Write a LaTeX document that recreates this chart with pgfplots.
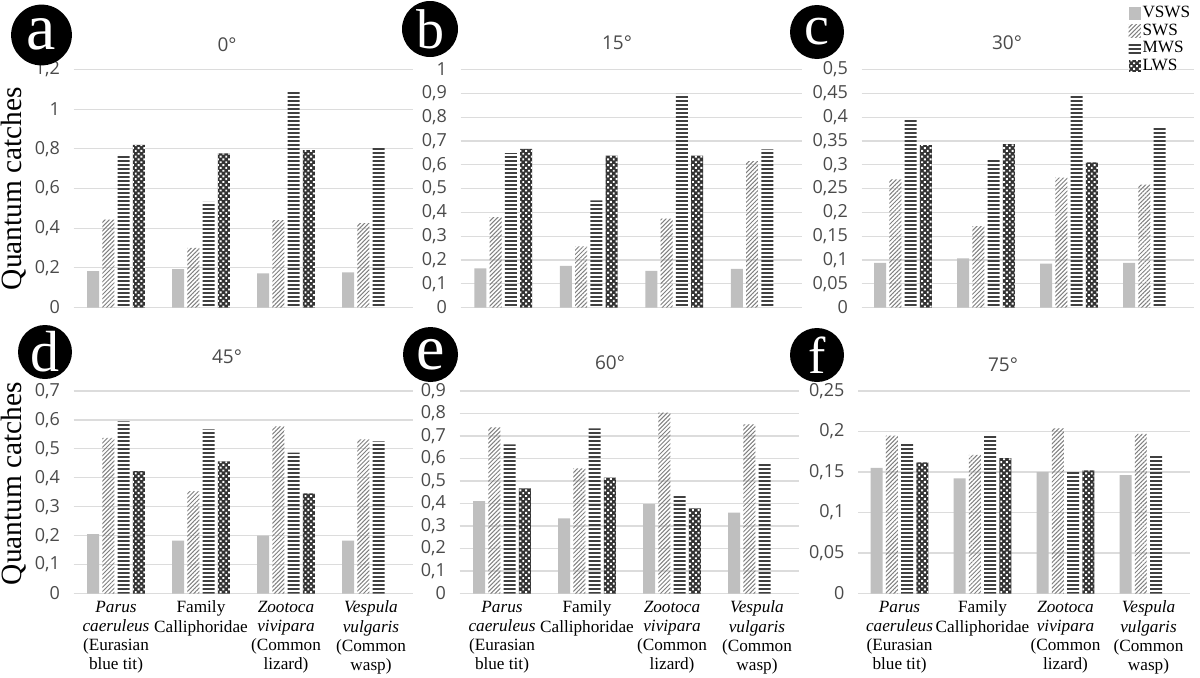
\documentclass[border=0pt]{standalone}
\usepackage{fontspec}
\setmainfont{Liberation Serif}
\newfontfamily\ticksf{Open Sans}
\usepackage{pgfplots}
\pgfplotsset{compat=1.18}
\usetikzlibrary{patterns.meta}
\definecolor{tickgray}{HTML}{4A4A4A}
\definecolor{gridgray}{HTML}{DCDCDC}
\definecolor{cvsws}{HTML}{BFBFBF}
\definecolor{csws}{HTML}{808080}
\definecolor{cmws}{HTML}{404040}
\definecolor{clws}{HTML}{333333}

\pgfplotsset{
 panel/.style={scale only axis, anchor=south west, ybar=1.65pt, bar width=6pt,
   xmin=-0.5, xmax=3.5, ymin=0, axis line style={draw=none}, major tick length=0pt,
   ymajorgrids, grid style={draw=gridgray, line width=0.6pt},
   yticklabel style={font=\ticksf\fontsize{9}{10}\selectfont, text=tickgray, xshift=-3.3pt},
   /pgf/number format/fixed, /pgf/number format/use comma, /pgf/number format/precision=2,
   /pgf/number format/assume math mode=true,
   scaled y ticks=false, clip=false, xtick=\empty,
   legend image code/.code={\path[##1, draw=none] (0pt,-3.2pt) rectangle (6.2pt,3.2pt);}},
 bottomlabels/.style={xtick={0,1,2,3},
   xticklabels={{\textit{Parus}\\\textit{caeruleus}\\(Eurasian\\blue tit)},
                {Family\\Calliphoridae},
                {\textit{Zootoca}\\\textit{vivipara}\\(Common\\lizard)},
                {\textit{Vespula}\\\textit{vulgaris}\\(Common\\wasp)}},
   xticklabel style={align=center, font=\fontsize{8.6}{9.6}\selectfont, inner sep=1pt, anchor=north, yshift=-2.5pt}},
 svsws/.style={fill=cvsws, draw=none},
 ssws/.style={draw=none, pattern={Lines[angle=45,distance=1.5pt,line width=0.5pt]}, pattern color=csws},
 smws/.style={draw=none, pattern={Lines[angle=0,distance=2pt,line width=1pt]}, pattern color=cmws},
 slws/.style={draw=none, fill=clws, postaction={pattern={Dots[angle=45,distance=2pt,radius=0.68pt]}, pattern color=white}},
}

\begin{document}
\begin{tikzpicture}
\useasboundingbox (0,0) rectangle (600pt,338.5pt);

% (a) 0 deg
\begin{axis}[panel, at={(36.75pt,184.75pt)}, width=170pt, height=119pt,
  ymax=1.2, ytick={0,0.2,0.4,0.6,0.8,1,1.2}]
\addplot[svsws] coordinates {(0,0.183) (1,0.194) (2,0.172) (3,0.177)};
\addplot[ssws] coordinates {(0,0.443) (1,0.301) (2,0.440) (3,0.426)};
\addplot[smws] coordinates {(0,0.772) (1,0.532) (2,1.095) (3,0.811)};
\addplot[slws] coordinates {(0,0.820) (1,0.777) (2,0.794)};
\end{axis}

% (b) 15 deg
\begin{axis}[panel, at={(230.25pt,184.75pt)}, width=171pt, height=119pt,
  ymax=1, ytick={0,0.1,0.2,0.3,0.4,0.5,0.6,0.7,0.8,0.9,1}]
\addplot[svsws] coordinates {(0,0.164) (1,0.175) (2,0.154) (3,0.162)};
\addplot[ssws] coordinates {(0,0.380) (1,0.257) (2,0.373) (3,0.615)};
\addplot[smws] coordinates {(0,0.649) (1,0.450) (2,0.898) (3,0.664)};
\addplot[slws] coordinates {(0,0.667) (1,0.638) (2,0.638)};
\end{axis}

% (c) 30 deg
\begin{axis}[panel, at={(430.75pt,184.75pt)}, width=166pt, height=119pt,
  ymax=0.5, ytick={0,0.05,0.1,0.15,0.2,0.25,0.3,0.35,0.4,0.45,0.5},
  legend style={at={(0.803,1.275)}, anchor=north west, draw=none, fill=none,
    font=\fontsize{8.6}{8.6}\selectfont, row sep=0pt, inner sep=0pt, nodes={inner sep=0.8pt}},
  legend cell align=left]
\addplot[svsws] coordinates {(0,0.094) (1,0.103) (2,0.092) (3,0.094)};
\addplot[ssws] coordinates {(0,0.269) (1,0.171) (2,0.273) (3,0.258)};
\addplot[smws] coordinates {(0,0.398) (1,0.314) (2,0.447) (3,0.381)};
\addplot[slws] coordinates {(0,0.341) (1,0.343) (2,0.305)};
\legend{VSWS,SWS,MWS,LWS}
\end{axis}

% (d) 45 deg
\begin{axis}[panel, bottomlabels, at={(36.75pt,41.75pt)}, width=170pt, height=101.25pt,
  ymax=0.7, ytick={0,0.1,0.2,0.3,0.4,0.5,0.6,0.7}]
\addplot[svsws] coordinates {(0,0.205) (1,0.183) (2,0.200) (3,0.183)};
\addplot[ssws] coordinates {(0,0.538) (1,0.354) (2,0.578) (3,0.533)};
\addplot[smws] coordinates {(0,0.595) (1,0.567) (2,0.487) (3,0.526)};
\addplot[slws] coordinates {(0,0.423) (1,0.457) (2,0.346)};
\end{axis}

% (e) 60 deg
\begin{axis}[panel, bottomlabels, at={(229.75pt,41.75pt)}, width=170pt, height=101.25pt,
  ymax=0.9, ytick={0,0.1,0.2,0.3,0.4,0.5,0.6,0.7,0.8,0.9}]
\addplot[svsws] coordinates {(0,0.411) (1,0.334) (2,0.397) (3,0.359)};
\addplot[ssws] coordinates {(0,0.738) (1,0.556) (2,0.804) (3,0.752)};
\addplot[smws] coordinates {(0,0.663) (1,0.734) (2,0.437) (3,0.575)};
\addplot[slws] coordinates {(0,0.467) (1,0.515) (2,0.378)};
\end{axis}

% (f) 75 deg
\begin{axis}[panel, bottomlabels, at={(429pt,41.75pt)}, width=166pt, height=101.25pt,
  ymax=0.25, ytick={0,0.05,0.1,0.15,0.2,0.25}]
\addplot[svsws] coordinates {(0,0.155) (1,0.142) (2,0.150) (3,0.146)};
\addplot[ssws] coordinates {(0,0.195) (1,0.171) (2,0.204) (3,0.197)};
\addplot[smws] coordinates {(0,0.186) (1,0.195) (2,0.150) (3,0.171)};
\addplot[slws] coordinates {(0,0.162) (1,0.167) (2,0.152)};
\end{axis}

% titles
\begin{scope}[every node/.style={font=\ticksf\fontsize{9.5}{10}\selectfont, text=tickgray}]
\node at (113.5pt,316pt) {0°};
\node at (308.5pt,317pt) {15°};
\node at (503.5pt,317pt) {30°};
\node at (113.5pt,160pt) {45°};
\node at (305pt,157pt) {60°};
\node at (501.5pt,156pt) {75°};
\end{scope}

% y labels
\node[rotate=90, font=\fontsize{14.7}{16}\selectfont] at (7pt,244.25pt) {Quantum catches};
\node[rotate=90, font=\fontsize{14.7}{16}\selectfont] at (7pt,96.75pt) {Quantum catches};

% panel letters
\fill (20.75pt,321pt) circle (15.2pt);
\node[text=white, font=\fontsize{33}{33}\selectfont, inner sep=0] at (20.75pt,321.5pt) {a};
\fill (215pt,324pt) circle (14pt);
\node[text=white, font=\fontsize{28}{28}\selectfont, inner sep=0] at (215pt,324pt) {b};
\fill (408.5pt,322.5pt) circle (13.5pt);
\node[text=white, font=\fontsize{28}{28}\selectfont, inner sep=0] at (408.5pt,322.5pt) {c};
\fill (22.5pt,162.5pt) circle (13.5pt);
\node[text=white, font=\fontsize{29}{29}\selectfont, inner sep=0] at (22.5pt,162.5pt) {d};
\fill (215.25pt,161.25pt) circle (13.75pt);
\node[text=white, font=\fontsize{32}{32}\selectfont, inner sep=0] at (215.25pt,161.25pt) {e};
\fill (408.5pt,161pt) circle (13.5pt);
\node[text=white, font=\fontsize{26}{26}\selectfont, inner sep=0] at (408.5pt,161pt) {f};
\end{tikzpicture}
\end{document}
